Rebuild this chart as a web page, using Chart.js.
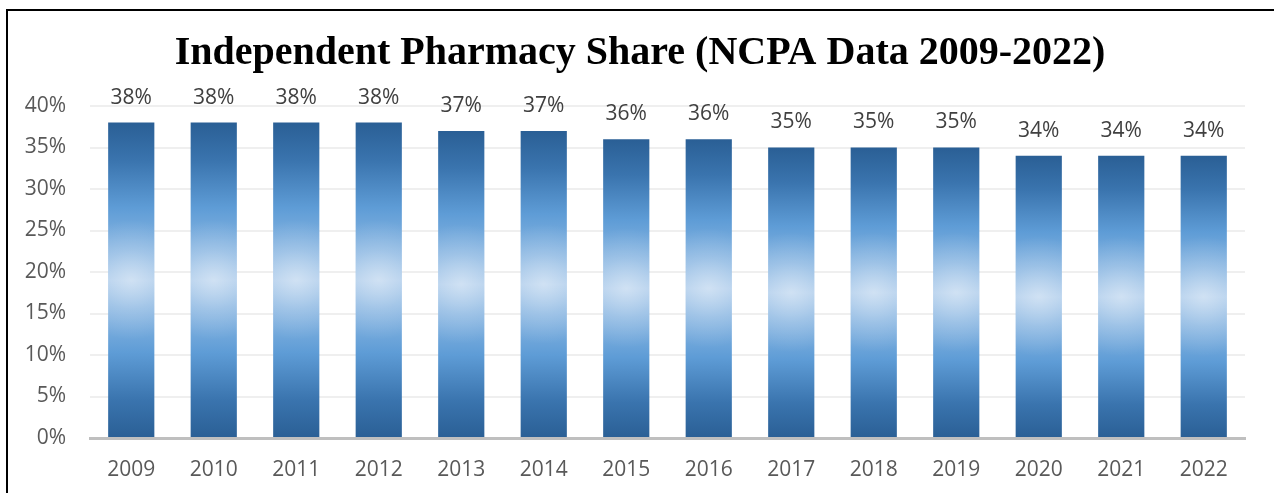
<!DOCTYPE html>
<html>
<head>
<meta charset="utf-8">
<script src="https://cdn.jsdelivr.net/npm/chart.js@4"></script>
<style>
  html, body { margin: 0; padding: 0; background: #fff; overflow: hidden; }
  #wrap { position: relative; width: 1274px; height: 493px; }
  #frame { position: absolute; left: 6px; top: 9px; width: 2000px; height: 2000px;
           border-left: 2px solid #000; border-top: 2px solid #000; pointer-events: none; }
</style>
</head>
<body>
<div id="wrap">
  <canvas id="shareChart" width="1274" height="493"></canvas>
  <div id="frame"></div>
</div>
<script>
// Data
const years = ['2009', '2010', '2011', '2012', '2013', '2014', '2015',
               '2016', '2017', '2018', '2019', '2020', '2021', '2022'];
const sharePct = [38, 38, 38, 38, 37, 37, 36, 36, 35, 35, 35, 34, 34, 34];
const yTicks = [0, 5, 10, 15, 20, 25, 30, 35, 40];

const labelFont = '"Open Sans", "DejaVu Sans", sans-serif';

// Vertical gradient: dark ends, light centre (per bar, from the scale)
function barFill(c) {
    const { ctx, scales } = c.chart;
    if (!scales || !scales.y || c.raw === undefined) return '#5b9bd5';
    const top = scales.y.getPixelForValue(c.raw);
    const base = scales.y.getPixelForValue(0);
    if (!isFinite(top) || !isFinite(base) || top === base) return '#5b9bd5';
    const g = ctx.createLinearGradient(0, top, 0, base);
    g.addColorStop(0, '#2a5f95');
    g.addColorStop(0.12, '#3a74ae');
    g.addColorStop(0.27, '#5e9cd6');
    g.addColorStop(0.5, '#a9c9ea');
    g.addColorStop(0.73, '#5e9cd6');
    g.addColorStop(0.88, '#3a74ae');
    g.addColorStop(1, '#2a5f95');
    return g;
}

// Soft light spot in the middle of each bar, then value labels above
const barExtras = {
    id: 'barExtras',
    afterDatasetsDraw(chart) {
        const ctx = chart.ctx;
        const meta = chart.getDatasetMeta(0);
        meta.data.forEach((bar, i) => {
            const left = bar.x - bar.width / 2;
            const h = bar.base - bar.y;
            const cy = bar.y + h / 2;
            ctx.save();
            ctx.beginPath();
            ctx.rect(left, bar.y, bar.width, h);
            ctx.clip();
            const r = ctx.createRadialGradient(bar.x, cy, 0, bar.x, cy, 60);
            r.addColorStop(0, 'rgba(255,255,255,0.45)');
            r.addColorStop(0.5, 'rgba(255,255,255,0.18)');
            r.addColorStop(1, 'rgba(255,255,255,0)');
            ctx.fillStyle = r;
            ctx.fillRect(left, bar.y, bar.width, h);
            ctx.restore();

            ctx.save();
            ctx.font = '21px ' + labelFont;
            ctx.fillStyle = '#404040';
            ctx.textAlign = 'center';
            ctx.textBaseline = 'middle';
            ctx.fillText(sharePct[i] + '%', bar.x, bar.y - 25);
            ctx.restore();
        });
    }
};

const chart = new Chart(document.getElementById('shareChart').getContext('2d'), {
    type: 'bar',
    data: {
        labels: years,
        datasets: [{
            label: 'Independent Pharmacy Share',
            data: sharePct,
            backgroundColor: barFill,
            borderWidth: 0,
            barPercentage: 0.56,
            categoryPercentage: 1.0,
        }],
    },
    options: {
        responsive: false,
        animation: false,
        layout: { padding: { left: 6, right: 0, top: 0, bottom: 5 } },
        plugins: {
            legend: { display: false },
            tooltip: { enabled: false },
            title: {
                display: true,
                text: 'Independent Pharmacy Share (NCPA Data 2009-2022)',
                color: '#000',
                font: { family: '"Liberation Serif", "Times New Roman", serif', size: 40, weight: 'bold', lineHeight: 1.2 },
                padding: { top: 30, bottom: 28 },
            },
        },
        scales: {
            x: {
                grid: { display: false, drawTicks: false },
                border: { display: true, color: '#bfbfbf', width: 3 },
                ticks: { color: '#595959', font: { family: labelFont, size: 21 }, padding: 19 },
                afterFit: (s) => { s.height = 50; },
            },
            y: {
                min: 0,
                max: 40,
                afterBuildTicks: (s) => { s.ticks = yTicks.map((v) => ({ value: v })); },
                grid: {
                    drawTicks: false,
                    lineWidth: 2,
                    color: (c) => (c.tick && c.tick.value === 0 ? 'rgba(0,0,0,0)' : '#efefef'),
                },
                border: { display: false },
                ticks: {
                    color: '#595959',
                    font: { family: labelFont, size: 21 },
                    padding: 24,
                    callback: (v) => v + '%',
                },
                afterFit: (s) => { s.width = 84; },
            },
            // empty right-hand spacer so the title stays centred on the whole picture
            spacer: {
                type: 'linear',
                position: 'right',
                display: true,
                grid: { display: false, drawTicks: false },
                border: { display: false },
                ticks: { display: false },
                afterFit: (s) => { s.width = 29; },
            },
        },
    },
    plugins: [barExtras],
});
</script>
</body>
</html>
